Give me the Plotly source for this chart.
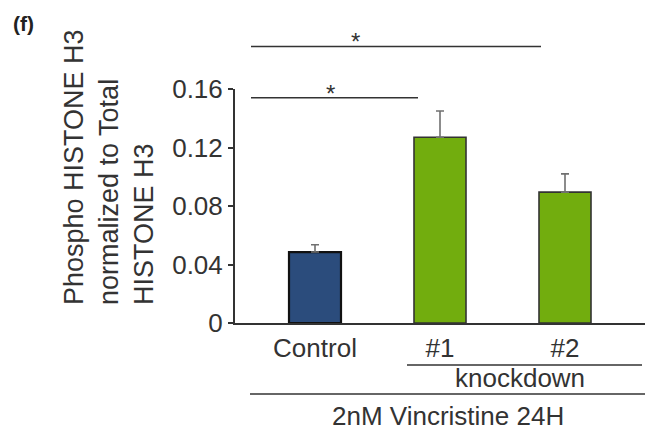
import plotly.graph_objects as go

# Data
categories = ["Control", "#1", "#2"]
values = [0.0485, 0.127, 0.0895]
errors = [0.005, 0.018, 0.0125]
bar_colors = ["#2b4c7c", "#72ad0e", "#72ad0e"]
edge_colors = ["#111111", "#333333", "#333333"]
tick_vals = [0, 0.04, 0.08, 0.12, 0.16]
tick_text = ["0", "0.04", "0.08", "0.12", "0.16"]
y_title_lines = ["Phospho HISTONE H3", "normalized to Total", "HISTONE H3"]
group_label = "knockdown"
treatment_label = "2nM Vincristine 24H"
panel_label = "(f)"

FONT = "Liberation Sans, Arial, sans-serif"
INK = "#333333"

W, H = 651, 430
ML, MR, MT, MB = 235, 6, 89, 107
XRANGE = [-0.64, 2.64]

fig = go.Figure(
    go.Bar(
        x=list(range(len(categories))),
        y=values,
        width=0.416,
        marker=dict(color=bar_colors, line=dict(color=edge_colors, width=[2.2, 1.6, 1.6])),
        error_y=dict(
            type="data",
            symmetric=False,
            array=errors,
            arrayminus=[0] * len(errors),
            color="#707070",
            thickness=1.6,
            width=4,
        ),
    )
)

fig.update_layout(
    width=W,
    height=H,
    margin=dict(l=ML, r=MR, t=MT, b=MB, pad=0),
    paper_bgcolor="white",
    plot_bgcolor="white",
    showlegend=False,
    font=dict(family=FONT, color=INK),
)

fig.update_xaxes(
    range=XRANGE,
    tickvals=list(range(len(categories))),
    ticktext=categories,
    ticks="",
    showgrid=False,
    zeroline=False,
    showline=True,
    linecolor=INK,
    linewidth=2,
    tickfont=dict(size=26, color=INK),
    ticklabelstandoff=1,
)
fig.update_yaxes(
    range=[0, 0.16],
    tickvals=tick_vals,
    ticktext=tick_text,
    ticks="outside",
    ticklen=5,
    tickwidth=1.6,
    tickcolor=INK,
    showgrid=False,
    zeroline=False,
    showline=True,
    linecolor=INK,
    linewidth=2,
    tickfont=dict(size=26, color=INK),
    ticklabelstandoff=0,
)

plot_w = W - ML - MR
plot_h = H - MT - MB


def px_to_paper_y(py):
    return (H - MB - py) / plot_h


def px_to_paper_x(px):
    return (px - ML) / plot_w


line_style = dict(color=INK, width=1.6)

# Significance brackets (x in category units, y in paper units above the plot)
sig = [
    (-0.512, 1.808, px_to_paper_y(46.5), 0.32),
    (-0.512, 0.824, px_to_paper_y(97.7), 0.12),
]
for x0, x1, yp, xs in sig:
    fig.add_shape(type="line", xref="x", yref="paper", x0=x0, x1=x1, y0=yp, y1=yp, line=line_style)
    fig.add_annotation(
        x=xs, y=yp, xref="x", yref="paper", text="*", showarrow=False,
        yanchor="bottom", font=dict(size=24, color=INK), yshift=-11,
    )

# Grouping lines below the category labels
y_kd = px_to_paper_y(365)
fig.add_shape(type="line", xref="x", yref="paper", x0=0.736, x1=2.616, y0=y_kd, y1=y_kd, line=line_style)
fig.add_annotation(
    x=1.64, y=px_to_paper_y(378), xref="x", yref="paper", text=group_label,
    showarrow=False, yanchor="middle", font=dict(size=26, color=INK),
)
y_tr = px_to_paper_y(394)
fig.add_shape(type="line", xref="x", yref="paper", x0=-0.52, x1=2.66, y0=y_tr, y1=y_tr, line=line_style)
fig.add_annotation(
    x=1.06, y=px_to_paper_y(416), xref="x", yref="paper", text=treatment_label,
    showarrow=False, yanchor="middle", font=dict(size=26, color=INK),
)

# Y-axis title, three lines aligned at their start
fig.add_annotation(
    x=px_to_paper_x(109), y=px_to_paper_y(307), xref="paper", yref="paper",
    text="<br>".join(y_title_lines), textangle=-90, align="left",
    showarrow=False, xanchor="center", yanchor="bottom",
    font=dict(size=27, color=INK),
)

# Panel label
fig.add_annotation(
    x=px_to_paper_x(11), y=px_to_paper_y(10), xref="paper", yref="paper",
    text="<b>" + panel_label + "</b>", showarrow=False, xanchor="left", yanchor="top",
    font=dict(size=21, color="#222222"),
)

fig.write_html("out.html")
